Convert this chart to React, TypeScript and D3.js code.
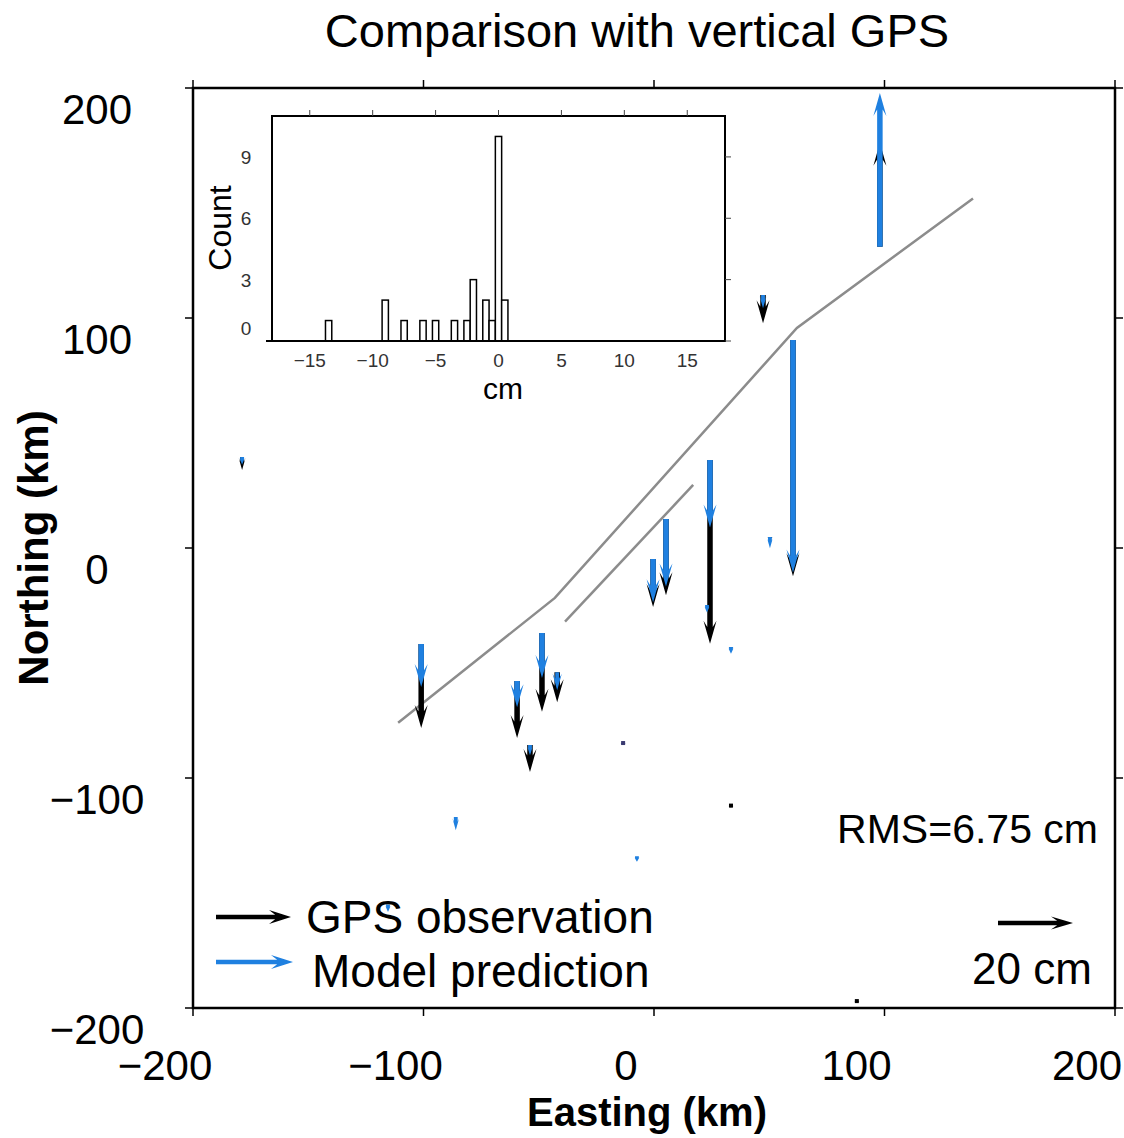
import React from 'react';
import * as d3 from 'd3';

// station locations (km) and vertical displacements (cm, positive = up)
const stationEast = [98, 60.3, 47.3, 24.3, 5.2, -0.4, 50.3, 33.4, -101, -59.4, -48.6, -42, -53.8, -13.4, -86, 33.4, -7.4, -115.4, -178.7, 23, 88];
const stationNorth = [131, 90.4, 110, 38.3, 12.6, -4.8, 4.8, -43, -41.7, -57.8, -37, -54, -85.7, -84.8, -117, -112, -134, -155, 39.6, -24.8, -197];
const gpsObs = [27.7, -63, -7.5, -49, -20.3, -12.8, -0.5, -0.3, -22.4, -15.2, -21, -8, -7.2, -0.5, 0, -0.5, 0, 0, -3.5, 0, -0.3];
const modelPred = [41, -62, -3.5, -18, -18, -11.5, -3, -1.8, -11.5, -7, -12, -4.8, -2.7, -0.5, -3.5, 0, -1.5, -2, -2, -2, 0];

// fault traces (km)
const faultA: [number, number][] = [[-111, -76], [-43, -21.7], [62, 95.7], [138.4, 152]];
const faultB: [number, number][] = [[-38.6, -32], [17, 27.4]];

// residual histogram (cm)
const binStart = [-13.75, -9.25, -7.75, -6.25, -5.25, -3.75, -2.75, -2.25, -1.25, -0.75, -0.25, 0.25];
const binCount = [1, 2, 1, 1, 1, 1, 1, 3, 2, 1, 10, 2];
const binWidth = 0.5;

const mainTicks = [-200, -100, 0, 100, 200];
const histXTicks = [-15, -10, -5, 0, 5, 10, 15];
const histYTicks = [0, 3, 6, 9];

const BLUE = '#1f80e0';
const FONT = 'Liberation Sans, Arial, Helvetica, sans-serif';

const fmt = (t: number) => (t < 0 ? '\u2212' + Math.abs(t) : String(t));

function arrowPath(len: number, w: number, headL: number, headW: number) {
  const s = Math.min(1, len / (headL * 1.1));
  const hl = headL * s;
  const hw = headW * Math.max(s, 0.45);
  const sw = w * Math.max(s, 0.7);
  const bx = len - hl;
  const nx = bx + hl * 0.28;
  return `M0,${-sw / 2}L${nx},${-sw / 2}L${bx},${-hw / 2}L${len},0L${bx},${hw / 2}L${nx},${sw / 2}L0,${sw / 2}Z`;
}

const Arrow = ({ x, y, len, angle, color, w = 5.5, headL = 23, headW = 13 }: any) => {
  if (len < 0.5) return null;
  return (
    <path
      d={arrowPath(len, w, headL, headW)}
      transform={`translate(${x},${y}) rotate(${angle})`}
      fill={color}
    />
  );
};

export default function App() {
  const x = d3.scaleLinear().domain([-200, 200]).range([193, 1115]);
  const y = d3.scaleLinear().domain([-200, 200]).range([1008, 88]);
  const cm = d3.scaleLinear().domain([0, 20]).range([0, 75]);

  const hx = d3.scaleLinear().domain([-18, 18]).range([272, 725]);
  const hy = d3.scaleLinear().domain([0, 11]).range([341, 116]);

  const line = d3.line<[number, number]>().x(d => x(d[0])).y(d => y(d[1]));

  const vec = (i: number, v: number, color: string) => (
    <Arrow
      key={color + i}
      x={x(stationEast[i])}
      y={y(stationNorth[i])}
      len={cm(Math.abs(v))}
      angle={v >= 0 ? -90 : 90}
      color={color}
    />
  );

  return (
    <svg width={1124} height={1138} style={{ position: 'absolute', left: 0, top: 0, background: '#fff' }} fontFamily={FONT}>
      <text x={637} y={47} fontSize={47} textAnchor="middle">Comparison with vertical GPS</text>

      {/* fault traces */}
      <path d={line(faultA) || ''} fill="none" stroke="#8c8c8c" strokeWidth={2.5} />
      <path d={line(faultB) || ''} fill="none" stroke="#8c8c8c" strokeWidth={2.5} />

      {/* vectors: observations under predictions */}
      {gpsObs.map((v, i) => vec(i, v, '#000'))}
      {modelPred.map((v, i) => vec(i, v, BLUE))}
      {stationEast.map((e, i) =>
        Math.abs(gpsObs[i]) < 0.6 && Math.abs(modelPred[i]) < 0.6 ? (
          <rect key={'d' + i} x={x(e) - 2} y={y(stationNorth[i]) - 2} width={4} height={4}
            fill={modelPred[i] !== 0 ? '#3a3a70' : '#000'} />
        ) : null
      )}

      {/* main frame */}
      <rect x={193} y={88} width={922} height={920} fill="none" stroke="#000" strokeWidth={2.5} />
      {mainTicks.map(t => (
        <g key={'mt' + t} stroke="#000" strokeWidth={1.5}>
          <line x1={x(t)} x2={x(t)} y1={88} y2={80} />
          <line x1={x(t)} x2={x(t)} y1={1008} y2={1016} />
          <line y1={y(t)} y2={y(t)} x1={193} x2={185} />
          <line y1={y(t)} y2={y(t)} x1={1115} x2={1123} />
        </g>
      ))}
      {mainTicks.map(t => (
        <text key={'xl' + t} x={x(t) - 28} y={1080} fontSize={42} textAnchor="middle">{fmt(t)}</text>
      ))}
      {mainTicks.map(t => (
        <text key={'yl' + t} x={97} y={y(t) + 36} fontSize={42} textAnchor="middle">{fmt(t)}</text>
      ))}
      <text x={647} y={1126} fontSize={40} fontWeight="bold" textAnchor="middle">Easting (km)</text>
      <text transform={`translate(48,548) rotate(-90)`} fontSize={42} fontWeight="bold" textAnchor="middle">Northing (km)</text>

      {/* histogram inset */}
      <rect x={272} y={116} width={453} height={225} fill="#fff" stroke="#000" strokeWidth={2} />
      {binStart.map((b, i) => (
        <rect key={'b' + i} x={hx(b)} y={hy(binCount[i])} width={hx(b + binWidth) - hx(b)}
          height={hy(0) - hy(binCount[i])} fill="#fff" stroke="#000" strokeWidth={1.5} />
      ))}
      <line x1={266} x2={725} y1={hy(0)} y2={hy(0)} stroke="#000" strokeWidth={2} />
      {histXTicks.map(t => (
        <g key={'hx' + t}>
          <line x1={hx(t)} x2={hx(t)} y1={116} y2={110} stroke="#444" strokeWidth={1} />
          <text x={hx(t)} y={367} fontSize={19} fill="#333" textAnchor="middle">{fmt(t)}</text>
        </g>
      ))}
      {histYTicks.map(t => (
        <g key={'hy' + t}>
          <line x1={725} x2={731} y1={hy(t)} y2={hy(t)} stroke="#444" strokeWidth={1} />
          <text x={246} y={hy(t) + 7 - (t === 0 ? 13 : 0)} fontSize={19} fill="#333" textAnchor="middle">{t}</text>
        </g>
      ))}
      <text x={503} y={399} fontSize={30} textAnchor="middle">cm</text>
      <text transform={`translate(231,228) rotate(-90)`} fontSize={32} textAnchor="middle">Count</text>

      {/* annotations and legend */}
      <text x={1098} y={843} fontSize={41} textAnchor="end">RMS=6.75 cm</text>
      <Arrow x={998} y={923} len={cm(20)} angle={0} color="#000" w={4.5} headL={22} headW={13} />
      <text x={1032} y={984} fontSize={44} textAnchor="middle">20 cm</text>

      <Arrow x={216} y={917} len={75} angle={0} color="#000" w={4.5} headL={22} headW={14} />
      <text x={306} y={933} fontSize={46}>GPS observation</text>
      <Arrow x={216} y={962} len={77} angle={0} color={BLUE} w={4.5} headL={22} headW={14} />
      <text x={312} y={987} fontSize={46}>Model prediction</text>
    </svg>
  );
}
